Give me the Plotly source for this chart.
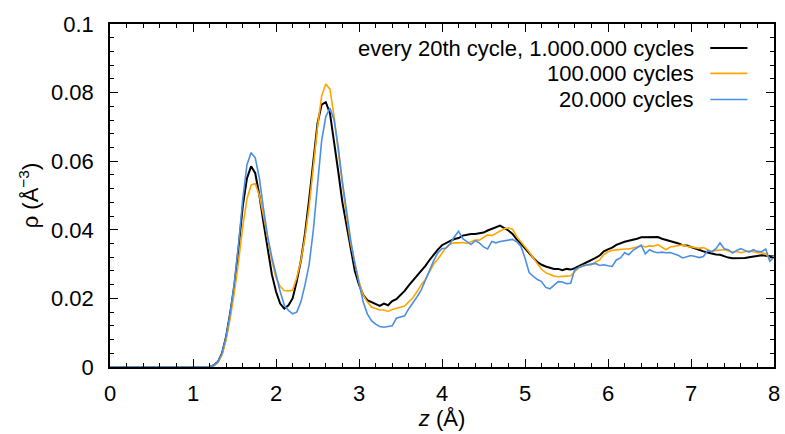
import plotly.graph_objects as go

# z grid (bin centres, Å)
z = [round(0.05 * i, 2) for i in range(161)]

zeros_head = [0.0] * 25  # z = 0.00 ... 1.20

rho_1M = zeros_head + [
    0.0005, 0.0015, 0.004, 0.009, 0.016, 0.024, 0.035, 0.047, 0.055, 0.0585,
    0.0565, 0.050, 0.042, 0.034, 0.027, 0.022, 0.0185, 0.017, 0.018, 0.020,
    0.025, 0.031, 0.039, 0.049, 0.061, 0.071, 0.0765, 0.0772, 0.074, 0.066,
    0.057, 0.048, 0.041, 0.034, 0.028, 0.024, 0.021, 0.0195, 0.019, 0.0185,
    0.0178, 0.0185, 0.018, 0.0192, 0.0198, 0.021, 0.0222, 0.0238, 0.0252, 0.0265,
    0.0278, 0.0295, 0.0312, 0.0328, 0.0342, 0.0355, 0.0362, 0.0368, 0.0373, 0.0376,
    0.0383, 0.0386, 0.0388, 0.0388, 0.0389, 0.0392, 0.0398, 0.0402, 0.0408, 0.0412,
    0.0405, 0.0398, 0.0388, 0.0372, 0.036, 0.0345, 0.0332, 0.0318, 0.0306, 0.0298,
    0.0293, 0.029, 0.0286, 0.0286, 0.0282, 0.0286, 0.0284, 0.0288, 0.0294, 0.0298,
    0.0305, 0.031, 0.0318, 0.0325, 0.0337, 0.0343, 0.0348, 0.0356, 0.0361, 0.0365,
    0.0368, 0.037, 0.0374, 0.0378, 0.0378, 0.038, 0.0378, 0.0379, 0.0374, 0.0371,
    0.0367, 0.0365, 0.036, 0.0355, 0.0354, 0.035, 0.0345, 0.0341, 0.0337, 0.0334,
    0.033, 0.0328, 0.0327, 0.0322, 0.0319, 0.0317, 0.0317, 0.0318, 0.0318, 0.032,
    0.0322, 0.0324, 0.0326, 0.0324, 0.0322, 0.0322,
]

rho_100k = zeros_head + [
    0.0004, 0.0013, 0.0035, 0.008, 0.0145, 0.022, 0.031, 0.041, 0.049, 0.0530,
    0.0535, 0.050, 0.044, 0.037, 0.031, 0.026, 0.0235, 0.0223, 0.0222, 0.0224,
    0.026, 0.031, 0.038, 0.047, 0.058, 0.070, 0.0790, 0.0825, 0.081, 0.073,
    0.063, 0.053, 0.044, 0.036, 0.030, 0.025, 0.021, 0.019, 0.0175, 0.017,
    0.0166, 0.0166, 0.0162, 0.0168, 0.0172, 0.0176, 0.0178, 0.019, 0.0202, 0.022,
    0.024, 0.0255, 0.028, 0.030, 0.0315, 0.0333, 0.0348, 0.0358, 0.0362, 0.0362,
    0.0363, 0.036, 0.0365, 0.037, 0.037, 0.0378, 0.0385, 0.0383, 0.039, 0.0398,
    0.0403, 0.0405, 0.0402, 0.038, 0.0366, 0.035, 0.0335, 0.0318, 0.0302, 0.0285,
    0.0275, 0.027, 0.0265, 0.0263, 0.0265, 0.0265, 0.0266, 0.0278, 0.029, 0.0296,
    0.0298, 0.0298, 0.0306, 0.0312, 0.0328, 0.0336, 0.034, 0.0342, 0.0342, 0.0344,
    0.0344, 0.0346, 0.035, 0.0354, 0.035, 0.0353, 0.0352, 0.0357, 0.035, 0.0342,
    0.035, 0.0352, 0.0355, 0.0356, 0.0352, 0.035, 0.0348, 0.0346, 0.0348, 0.0342,
    0.0337, 0.034, 0.0342, 0.0342, 0.0338, 0.0335, 0.0337, 0.0333, 0.0336, 0.0338,
    0.0336, 0.0333, 0.0333, 0.033, 0.0316, 0.0322,
]

rho_20k = zeros_head + [
    0.0005, 0.0015, 0.004, 0.009, 0.016, 0.025, 0.036, 0.049, 0.059, 0.0625,
    0.061, 0.055, 0.046, 0.038, 0.032, 0.027, 0.022, 0.018, 0.0165, 0.0155,
    0.016, 0.019, 0.024, 0.030, 0.040, 0.053, 0.066, 0.073, 0.0755, 0.072,
    0.064, 0.054, 0.045, 0.037, 0.030, 0.024, 0.019, 0.0155, 0.0135, 0.0125,
    0.0118, 0.0116, 0.0117, 0.012, 0.0142, 0.0146, 0.0149, 0.017, 0.0186, 0.0205,
    0.0225, 0.0255, 0.0284, 0.031, 0.0333, 0.0345, 0.0347, 0.036, 0.038, 0.0396,
    0.0374, 0.0366, 0.0357, 0.0368, 0.0362, 0.035, 0.0344, 0.0366, 0.0362, 0.0366,
    0.0368, 0.0372, 0.0372, 0.0365, 0.0352, 0.0318, 0.0275, 0.0264, 0.0255, 0.0249,
    0.0232, 0.0228, 0.024, 0.0249, 0.0248, 0.0243, 0.0244, 0.0284, 0.029, 0.0295,
    0.0298, 0.030, 0.0302, 0.0296, 0.0298, 0.0295, 0.0293, 0.0312, 0.0318, 0.0333,
    0.0327, 0.034, 0.0348, 0.0355, 0.033, 0.0342, 0.0336, 0.0333, 0.0335, 0.0333,
    0.0334, 0.033, 0.0325, 0.0318, 0.0322, 0.0325, 0.0322, 0.0319, 0.0322, 0.034,
    0.0336, 0.0345, 0.0362, 0.0345, 0.0342, 0.0332, 0.034, 0.0345, 0.034, 0.0335,
    0.0342, 0.0337, 0.0336, 0.0344, 0.0308, 0.032,
]

names = ["every 20th cycle, 1.000.000 cycles", "100.000 cycles", "20.000 cycles"]
series = [rho_1M, rho_100k, rho_20k]
colors = ["#000000", "#ffa500", "#4a8fe6"]
widths = [2.0, 1.6, 1.6]

x_ticks = [0, 1, 2, 3, 4, 5, 6, 7, 8]
y_ticks = [0, 0.02, 0.04, 0.06, 0.08, 0.1]
y_tick_text = ["0", "0.02", "0.04", "0.06", "0.08", "0.1"]
x_range = [0, 8]
y_range = [0, 0.1]

FONT = "Liberation Sans, Arial, sans-serif"
FS = 22

fig = go.Figure()
for name, ys, c, w in zip(names, series, colors, widths):
    fig.add_trace(go.Scatter(x=z, y=ys, mode="lines", name=name,
                             line=dict(color=c, width=w), showlegend=False))

# invisible trace to anchor the mirrored (top/right) tick axes
fig.add_trace(go.Scatter(x=[None], y=[None], xaxis="x2", yaxis="y2",
                         showlegend=False, hoverinfo="skip"))

# custom gnuplot-style legend (text right-aligned, sample line on the right)
legend_y = [0.930, 0.856, 0.780]
for name, c, w, ly in zip(names, colors, widths, legend_y):
    fig.add_annotation(xref="paper", yref="paper", x=0.882, y=ly,
                       text=name, showarrow=False, xanchor="right",
                       yanchor="middle", font=dict(size=FS, color="black", family=FONT))
    fig.add_shape(type="line", xref="paper", yref="paper",
                  x0=0.904, x1=0.960, y0=ly, y1=ly,
                  line=dict(color=c, width=w))

axis_common = dict(
    showline=True, linecolor="black", linewidth=1.5, mirror=True,
    ticks="inside", ticklen=8, tickwidth=1.2, tickcolor="black",
    showgrid=False, zeroline=False, automargin=False,
    tickfont=dict(size=FS, color="black", family=FONT),
)

fig.update_layout(
    width=785, height=434,
    margin=dict(l=110, r=11, t=24, b=67),
    plot_bgcolor="white", paper_bgcolor="white",
    showlegend=False,
    xaxis=dict(
        range=x_range, tickvals=x_ticks, ticktext=[str(t) for t in x_ticks],
        minor=dict(dtick=0.2, ticks="inside", ticklen=4, tickcolor="black", tickwidth=1),
        title=dict(text="<i>z</i> (Å)", font=dict(size=FS, color="black", family=FONT), standoff=4),
        ticklabelstandoff=6,
        **axis_common,
    ),
    yaxis=dict(
        range=y_range, tickvals=y_ticks, ticktext=y_tick_text,
        minor=dict(dtick=0.004, ticks="inside", ticklen=4, tickcolor="black", tickwidth=1),
        title=dict(text="ρ (Å<sup>−3</sup>)", font=dict(size=FS, color="black", family=FONT), standoff=6),
        ticklabelstandoff=10,
        **axis_common,
    ),
    xaxis2=dict(
        overlaying="x", side="top", range=x_range, tickvals=x_ticks,
        showticklabels=False, ticks="inside", ticklen=8, tickwidth=1.2, tickcolor="black",
        minor=dict(dtick=0.2, ticks="inside", ticklen=4, tickcolor="black", tickwidth=1),
        showline=False, showgrid=False, zeroline=False, automargin=False,
    ),
    yaxis2=dict(
        overlaying="y", side="right", range=y_range, tickvals=y_ticks,
        showticklabels=False, ticks="inside", ticklen=8, tickwidth=1.2, tickcolor="black",
        minor=dict(dtick=0.004, ticks="inside", ticklen=4, tickcolor="black", tickwidth=1),
        showline=False, showgrid=False, zeroline=False, automargin=False,
    ),
)

fig.write_html("out.html")
